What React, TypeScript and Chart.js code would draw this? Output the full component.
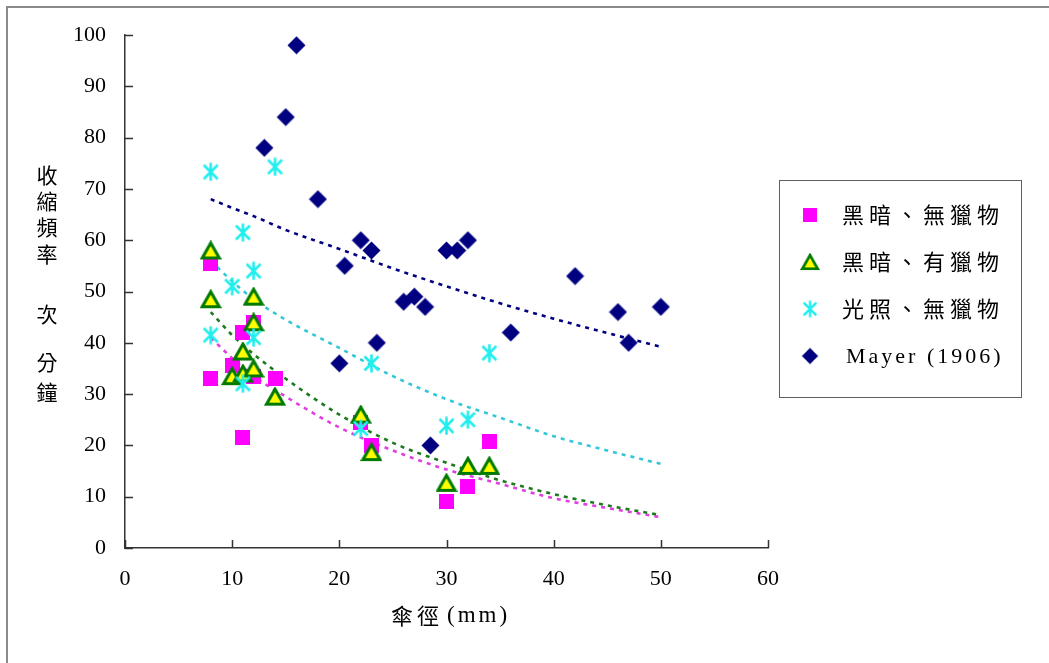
import { useEffect, useRef } from 'react';
import { Chart, registerables } from 'chart.js';

Chart.register(...registerables);

// ---- data ----
const darkNoPreyX = [8, 8, 10, 11, 11, 12, 12, 14, 22, 23, 30, 32, 34];
const darkNoPreyY = [55.5, 33, 35.5, 42, 21.5, 44, 33.5, 33, 24.5, 20, 9, 12, 20.7];

const darkPreyX = [8, 8, 10, 11, 11, 12, 12, 12, 14, 22, 23, 30, 32, 34];
const darkPreyY = [58, 48.5, 33.5, 38.3, 34, 49, 44, 35, 29.5, 26, 18.7, 12.7, 16, 16];

const lightNoPreyX = [8, 8, 10, 11, 11, 12, 12, 14, 22, 23, 30, 32, 34];
const lightNoPreyY = [73.3, 41.5, 51, 61.5, 32, 54, 41, 74.3, 23.3, 36, 23.8, 25, 38];

const mayerX = [13, 15, 16, 18, 20, 20.5, 22, 23, 23.5, 26, 27, 28, 28.5, 30, 31, 32, 36, 42, 46, 47, 50];
const mayerY = [78, 84, 98, 68, 36, 55, 60, 58, 40, 48, 49, 47, 20, 58, 58, 60, 42, 53, 46, 40, 47];

// trendlines
const trendX = [8, 10, 12, 15, 20, 25, 30, 35, 40, 45, 50];
const trendDarkNoPrey = [41, 37, 33.5, 29.5, 23.5, 19, 15.3, 12.5, 9.7, 7.8, 6];
const trendDarkPrey = [46, 41.5, 37.8, 33, 26, 20.5, 16.6, 13.2, 10.5, 8.3, 6.4];
const trendLightNoPrey = [56, 52, 48.5, 44.5, 39, 33.5, 29, 25.4, 21.8, 19, 16.4];
const trendMayer = [68, 66.3, 64.7, 62, 58.3, 54.5, 51, 47.7, 44.7, 41.9, 39.2];

const xTicks = [0, 10, 20, 30, 40, 50, 60];
const yTicks = [0, 10, 20, 30, 40, 50, 60, 70, 80, 90, 100];

const seriesNames = ['黑暗、無獵物', '黑暗、有獵物', '光照、無獵物', 'Mayer (1906)'];
const yTitleChars = ['收', '縮', '頻', '率', '次', '分', '鐘'];
const xTitleCJK = '傘徑';
const xTitleUnit = '(mm)';

// ---- styles ----
const PINK = '#FF00FF';
const GREEN = '#007A00';
const YELLOW = '#FFFF00';
const CYAN = '#22EEEE';
const NAVY = '#000080';
const CJK = "'Noto Sans CJK TC', 'Noto Sans CJK SC', sans-serif";
const SERIF = "'Liberation Serif', 'DejaVu Serif', serif";

function makeCanvas(w: number, h: number, draw: (g: CanvasRenderingContext2D) => void) {
  const c = document.createElement('canvas');
  c.width = w;
  c.height = h;
  const g = c.getContext('2d') as CanvasRenderingContext2D;
  draw(g);
  return c;
}

function zip(xs: number[], ys: number[]) {
  return xs.map((x, i) => ({ x, y: ys[i] }));
}

export default function App() {
  const ref = useRef<HTMLCanvasElement | null>(null);

  useEffect(() => {
    if (!ref.current) return;

    const square = makeCanvas(15, 15, (g) => {
      g.fillStyle = PINK;
      g.fillRect(0, 0, 15, 15);
    });
    const triangle = makeCanvas(22, 20, (g) => {
      g.beginPath();
      g.moveTo(11, 2.5);
      g.lineTo(19.5, 17.5);
      g.lineTo(2.5, 17.5);
      g.closePath();
      g.fillStyle = YELLOW;
      g.fill();
      g.lineWidth = 3;
      g.lineJoin = 'miter';
      g.strokeStyle = GREEN;
      g.stroke();
    });
    const star = makeCanvas(19, 19, (g) => {
      g.strokeStyle = CYAN;
      g.lineWidth = 2.6;
      g.lineCap = 'butt';
      g.beginPath();
      g.moveTo(2.5, 2.5);
      g.lineTo(16.5, 16.5);
      g.moveTo(16.5, 2.5);
      g.lineTo(2.5, 16.5);
      g.moveTo(9.5, 0.5);
      g.lineTo(9.5, 18.5);
      g.stroke();
    });
    const diamond = makeCanvas(19, 19, (g) => {
      g.fillStyle = NAVY;
      g.beginPath();
      g.moveTo(9.5, 0.5);
      g.lineTo(18.5, 9.5);
      g.lineTo(9.5, 18.5);
      g.lineTo(0.5, 9.5);
      g.closePath();
      g.fill();
    });
    const markers = [square, triangle, star, diamond];

    const decor = {
      id: 'decor',
      beforeDraw(chart: any) {
        const ctx = chart.ctx as CanvasRenderingContext2D;
        ctx.save();
        ctx.fillStyle = '#FFFFFF';
        ctx.fillRect(0, 0, chart.width, chart.height);
        ctx.strokeStyle = '#8A8A8A';
        ctx.lineWidth = 2;
        ctx.beginPath();
        ctx.moveTo(7, chart.height);
        ctx.lineTo(7, 7);
        ctx.lineTo(chart.width, 7);
        ctx.stroke();
        ctx.restore();
      },
      afterDraw(chart: any) {
        const ctx = chart.ctx as CanvasRenderingContext2D;
        const { chartArea, scales } = chart;
        ctx.save();
        // inside tick marks
        ctx.strokeStyle = '#333333';
        ctx.lineWidth = 1.5;
        ctx.beginPath();
        yTicks.forEach((v) => {
          const y = Math.round(scales.y.getPixelForValue(v)) + 0.5;
          ctx.moveTo(chartArea.left, y);
          ctx.lineTo(chartArea.left + 8, y);
        });
        xTicks.forEach((v) => {
          const x = Math.round(scales.x.getPixelForValue(v)) + 0.5;
          ctx.moveTo(x, chartArea.bottom);
          ctx.lineTo(x, chartArea.bottom - 8);
        });
        ctx.stroke();

        // y title (vertical)
        ctx.fillStyle = '#000000';
        ctx.font = `21px ${CJK}`;
        ctx.textAlign = 'center';
        ctx.textBaseline = 'middle';
        const yPos = [175, 201, 227, 254, 314, 362, 392];
        yTitleChars.forEach((ch, i) => ctx.fillText(ch, 47, yPos[i]));

        // x title
        ctx.textAlign = 'left';
        (ctx as any).letterSpacing = '4px';
        ctx.font = `22px ${CJK}`;
        ctx.fillText(xTitleCJK, 391, 616);
        (ctx as any).letterSpacing = '3px';
        ctx.font = `23px ${SERIF}`;
        ctx.fillText(xTitleUnit, 447, 616);

        // legend
        ctx.strokeStyle = '#606060';
        ctx.lineWidth = 1;
        ctx.strokeRect(779.5, 180.5, 242, 217);
        seriesNames.forEach((name, i) => {
          const cy = 215 + i * 47;
          const m = markers[i];
          const s = 0.9;
          ctx.drawImage(m, 810 - (m.width * s) / 2, cy - (m.height * s) / 2, m.width * s, m.height * s);
          ctx.fillStyle = '#000000';
          ctx.textAlign = 'left';
          ctx.textBaseline = 'middle';
          if (i === 3) {
            (ctx as any).letterSpacing = '3px';
            ctx.font = `22px ${SERIF}`;
            ctx.fillText(name, 846, cy + 1);
          } else {
            (ctx as any).letterSpacing = '5px';
            ctx.font = `22px ${CJK}`;
            ctx.fillText(name, 842, cy);
          }
        });
        (ctx as any).letterSpacing = '0px';
        ctx.restore();
      },
    };

    const trend = (ys: number[], color: string, order: number) => ({
      type: 'line' as const,
      data: zip(trendX, ys),
      showLine: true,
      borderColor: color,
      borderWidth: 2.6,
      borderDash: [4, 5],
      pointRadius: 0,
      fill: false,
      cubicInterpolationMode: 'monotone' as const,
      order,
    });

    const chart = new Chart(ref.current, {
      type: 'scatter',
      data: {
        datasets: [
          { label: seriesNames[0], data: zip(darkNoPreyX, darkNoPreyY), pointStyle: square as any, pointRadius: 8, order: 4 },
          { label: seriesNames[1], data: zip(darkPreyX, darkPreyY), pointStyle: triangle as any, pointRadius: 8, order: 3 },
          { label: seriesNames[2], data: zip(lightNoPreyX, lightNoPreyY), pointStyle: star as any, pointRadius: 8, order: 2 },
          { label: seriesNames[3], data: zip(mayerX, mayerY), pointStyle: diamond as any, pointRadius: 8, order: 1 },
          trend(trendDarkNoPrey, '#E040E0', 8),
          trend(trendDarkPrey, '#1E7A1E', 7),
          trend(trendLightNoPrey, '#33C8D8', 6),
          trend(trendMayer, '#000080', 5),
        ] as any,
      },
      options: {
        animation: false,
        responsive: false,
        maintainAspectRatio: false,
        devicePixelRatio: 1,
        layout: { padding: { left: 0, right: 281, top: 35, bottom: 0 } },
        plugins: {
          legend: { display: false },
          tooltip: { enabled: false },
          title: { display: false },
        },
        scales: {
          x: {
            type: 'linear',
            min: 0,
            max: 60,
            ticks: {
              stepSize: 10,
              padding: 18,
              color: '#000000',
              font: { family: SERIF, size: 22 },
            },
            grid: { display: false, drawTicks: false },
            border: { display: true, color: '#333333', width: 1.5 },
            afterFit: (scale: any) => {
              scale.height = 115;
            },
          },
          y: {
            type: 'linear',
            min: 0,
            max: 100,
            ticks: {
              stepSize: 10,
              padding: 19,
              color: '#000000',
              font: { family: SERIF, size: 22 },
            },
            grid: { display: false, drawTicks: false },
            border: { display: true, color: '#333333', width: 1.5 },
            afterFit: (scale: any) => {
              scale.width = 125;
            },
          },
        },
      } as any,
      plugins: [decor],
    });

    return () => chart.destroy();
  }, []);

  return (
    <div style={{ position: 'fixed', left: 0, top: 0, width: 1049, height: 663, background: '#fff' }}>
      <canvas ref={ref} width={1049} height={663} style={{ display: 'block', width: 1049, height: 663 }} />
    </div>
  );
}
